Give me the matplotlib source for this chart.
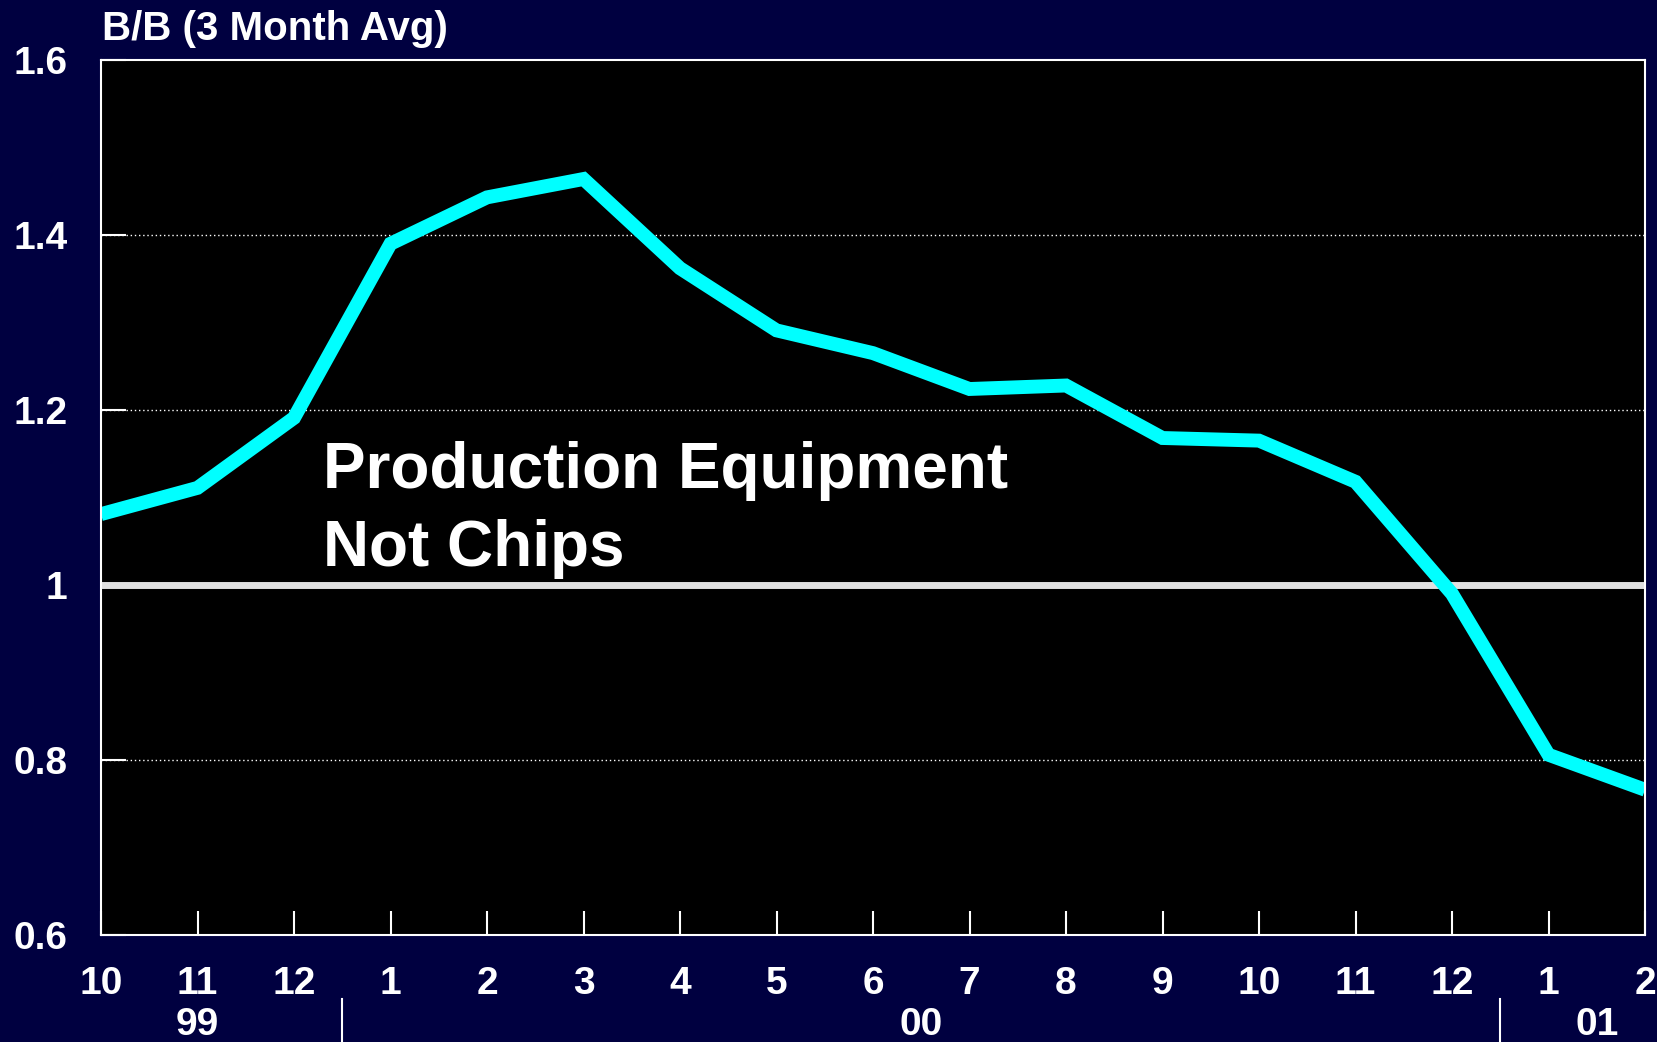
import matplotlib
matplotlib.use("Agg")
import matplotlib.pyplot as plt

# colours
C_BG = "#000040"
C_PLOT = "#000000"
C_LINE = "#00FFFF"
C_ONE = "#E0E0E0"

plt.rcParams['font.family'] = ['Liberation Sans', 'DejaVu Sans']
plt.rcParams['font.weight'] = 'bold'

# data: 3-month avg book-to-bill, Oct 99 .. Feb 01
months = ["10", "11", "12", "1", "2", "3", "4", "5", "6", "7", "8",
          "9", "10", "11", "12", "1", "2"]
bb_ratio = [1.081, 1.111, 1.191, 1.390, 1.443, 1.464, 1.362, 1.291, 1.265,
            1.224, 1.228, 1.168, 1.165, 1.118, 0.990, 0.806, 0.766]
years = ["99", "00", "01"]
year_start = [0, 3, 15]
year_end = [2, 14, 16]
y_ticks = [0.6, 0.8, 1.0, 1.2, 1.4, 1.6]
y_labels = ["0.6", "0.8", "1", "1.2", "1.4", "1.6"]

fig = plt.figure(figsize=(16.57, 10.42), dpi=100)
fig.patch.set_facecolor(C_BG)
ax = fig.add_axes([101 / 1657, 1 - 935 / 1042, 1544 / 1657, 875 / 1042])
ax.set_facecolor(C_PLOT)

x = list(range(len(months)))
ax.set_xlim(0, len(months) - 1)
ax.set_ylim(0.6, 1.6)

# grid (dotted) and the 1.0 reference line
for yv in [0.8, 1.2, 1.4]:
    ax.axhline(yv, color="white", lw=1.0, ls=(0, (1, 2)), zorder=1)
ax.axhline(1.0, color=C_ONE, lw=5, zorder=2)

ax.plot(x, bb_ratio, color=C_LINE, lw=10, solid_capstyle="butt",
        solid_joinstyle="miter", zorder=3)

for s in ax.spines.values():
    s.set_color("white")
    s.set_linewidth(1.5)
    s.set_zorder(4)

ax.set_yticks(y_ticks)
ax.set_yticklabels(y_labels)
ax.set_xticks(x)
ax.set_xticklabels(months)
ax.tick_params(axis="y", direction="in", length=18, width=1.5, colors="white",
               labelsize=28, pad=24)
ax.tick_params(axis="x", direction="in", length=17, width=1.5, colors="white",
               labelsize=28, pad=22)
for t in ax.get_xticklabels() + ax.get_yticklabels():
    t.set_fontweight("bold")

# year row under the month labels
for yr, a, b in zip(years, year_start, year_end):
    ax.text((a + b) / 2, -0.103, yr, transform=ax.get_xaxis_transform(),
            ha="center", va="center", color="white", fontsize=28,
            fontweight="bold", clip_on=False)
for sep in [2.5, 14.5]:
    ax.plot([sep, sep], [-0.073, -0.13], transform=ax.get_xaxis_transform(),
            color="white", lw=1.5, clip_on=False)

ax.text(2.3, 1.165, "Production Equipment\nNot Chips", color="white",
        fontsize=46, fontweight="bold", ha="left", va="top", linespacing=1.4,
        zorder=5)

fig.text(102 / 1657, 1 - 40 / 1042, "B/B (3 Month Avg)", color="white",
         fontsize=29, fontweight="bold", ha="left", va="baseline")

fig.savefig("out.png", dpi=100, facecolor=C_BG)
